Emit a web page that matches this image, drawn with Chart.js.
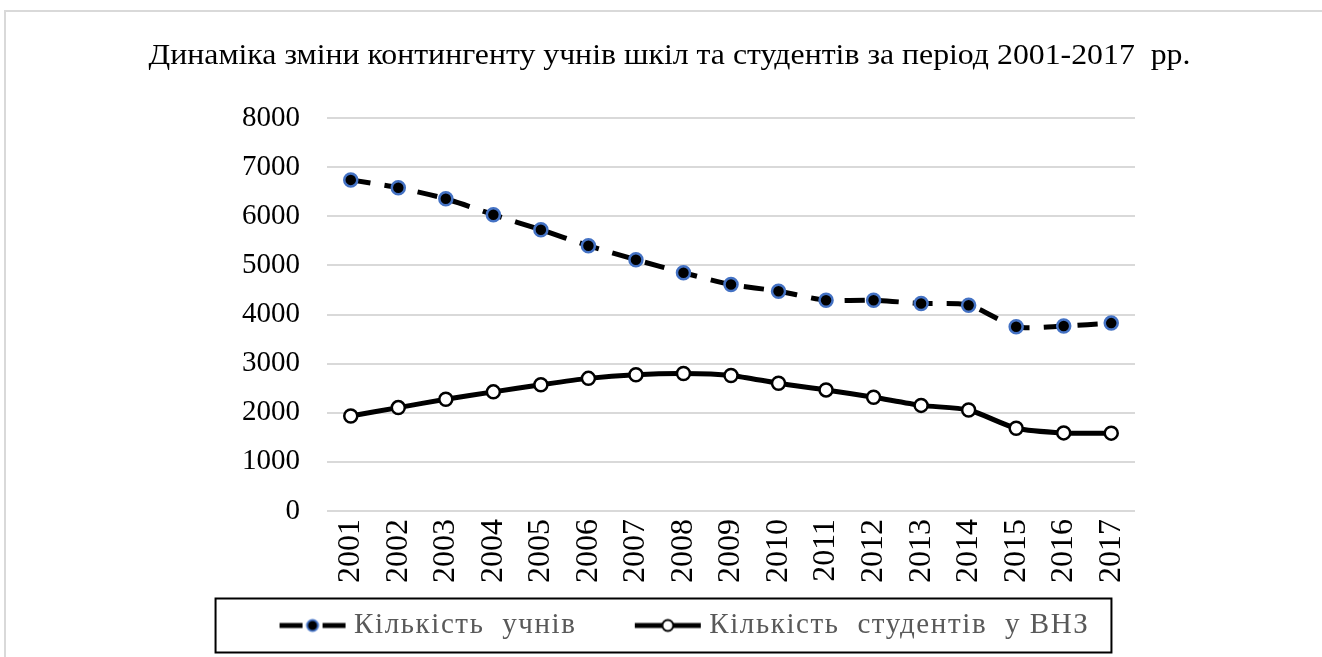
<html>
  <head>
    <script src="https://cdn.jsdelivr.net/npm/chart.js@4.4.1/dist/chart.umd.min.js"></script>
    <style>
      body { margin: 0; background: #fff; overflow: hidden; }
      #frame { position: absolute; left: 4px; top: 10px; width: 1340px; height: 700px; border: 2px solid #d9d9d9; }
      #wrap { position: absolute; left: 0; top: 0; width: 1322px; height: 657px; }
    </style>
    <script>
      // years and counts (thousands)
      var years = ['2001', '2002', '2003', '2004', '2005', '2006', '2007', '2008', '2009',
        '2010', '2011', '2012', '2013', '2014', '2015', '2016', '2017']
      var pupils = [6740, 6580, 6355, 6030, 5725, 5400, 5115, 4850, 4610,
        4475, 4290, 4290, 4225, 4190, 3750, 3765, 3825]
      var students = [1935, 2105, 2275, 2425, 2570, 2700, 2775, 2800, 2760,
        2600, 2465, 2315, 2150, 2055, 1685, 1590, 1585]
      var yTicks = [0, 1000, 2000, 3000, 4000, 5000, 6000, 7000, 8000]
      var titleText = 'Динаміка зміни контингенту учнів шкіл та студентів за період 2001-2017  рр.'
      var seriesNames = ['Кількість  учнів', 'Кількість  студентів  у ВНЗ']

      var serif = "'Liberation Serif', 'Times New Roman', serif"

      function legendMarker(dashed, fill, stroke) {
        var c = document.createElement('canvas')
        c.width = 68
        c.height = 20
        var ctx = c.getContext('2d')
        ctx.strokeStyle = '#000'
        ctx.lineWidth = 5
        ctx.beginPath()
        if (dashed) {
          ctx.moveTo(1, 10); ctx.lineTo(24, 10)
          ctx.moveTo(44, 10); ctx.lineTo(67, 10)
        } else {
          ctx.moveTo(1, 10); ctx.lineTo(67, 10)
        }
        ctx.stroke()
        ctx.beginPath()
        ctx.arc(34, 10, 5.5, 0, Math.PI * 2)
        ctx.fillStyle = fill
        ctx.fill()
        ctx.lineWidth = 2
        ctx.strokeStyle = stroke
        ctx.stroke()
        return c
      }

      // the original text runs a bit wider than Liberation Serif, so space the legend letters out
      function withSpacing(obj, name, ls) {
        var orig = obj[name]
        obj[name] = function () {
          var ctx = this.ctx
          var old = ctx.letterSpacing
          ctx.letterSpacing = ls
          try { return orig.apply(this, arguments) } finally { ctx.letterSpacing = old }
        }
      }

      // and stretch the title sideways around its centre
      function stretchTitle(title, sx) {
        var orig = title.draw
        title.draw = function () {
          var ctx = this.ctx
          var cx = (this.left + this.right) / 2
          ctx.save()
          ctx.translate(cx, 0)
          ctx.scale(sx, 1)
          ctx.translate(-cx, 0)
          // text is squeezed to the box width, so give it room while drawing
          this.left -= 150; this.right += 150; this.width += 300
          try {
            return orig.apply(this, arguments)
          } finally {
            this.left += 150; this.right -= 150; this.width -= 300
            ctx.restore()
          }
        }
      }

      var legendBox = {
        id: 'legendBox',
        afterLayout: function (chart) {
          // legend sits a little right of centre in the original
          chart.legend.left += 18
          chart.legend.right += 18
        },
        afterDraw: function (chart) {
          var boxes = chart.legend.legendHitBoxes
          if (!boxes || !boxes.length) return
          var l = Math.min.apply(null, boxes.map(function (b) { return b.left }))
          var r = Math.max.apply(null, boxes.map(function (b) { return b.left + b.width }))
          var t = boxes[0].top, h = boxes[0].height
          var ctx = chart.ctx
          ctx.save()
          ctx.strokeStyle = '#000'
          ctx.lineWidth = 2
          ctx.strokeRect(l - 70, t + h / 2 - 27, (r + 22) - (l - 70), 54)
          ctx.restore()
        }
      }

      function init() {
        var markers = [legendMarker(true, '#000', '#4472C4'), legendMarker(false, '#fff', '#000')]
        var chart = new Chart(document.getElementById('chart'), {
          type: 'line',
          data: {
            labels: years,
            datasets: [
              {
                label: seriesNames[0],
                data: pupils,
                borderColor: '#000',
                borderWidth: 5,
                borderDash: [20, 14],
                pointRadius: 6.5,
                pointBackgroundColor: '#000',
                pointBorderColor: '#4472C4',
                pointBorderWidth: 2.5,
                fill: false,
                tension: 0.25,
              },
              {
                label: seriesNames[1],
                data: students,
                borderColor: '#000',
                borderWidth: 5,
                pointRadius: 6.5,
                pointBackgroundColor: '#fff',
                pointBorderColor: '#000',
                pointBorderWidth: 2.5,
                fill: false,
                tension: 0.25,
              },
            ],
          },
          options: {
            responsive: false,
            animation: false,
            layout: { padding: { left: 204, right: 187, top: 0, bottom: 7 } },
            plugins: {
              title: {
                display: true,
                text: titleText,
                color: '#000',
                font: { family: serif, size: 30, weight: 'normal' },
                padding: { top: 38, bottom: 44 },
              },
              legend: {
                position: 'bottom',
                labels: {
                  usePointStyle: true,
                  pointStyleWidth: 54,
                  color: '#595959',
                  font: { family: serif, size: 29 },
                  padding: 20,
                  generateLabels: function (chart) {
                    var n = chart.data.datasets.length
                    return chart.data.datasets.map(function (ds, i) {
                      return {
                        // trailing spaces only widen the gap between the two entries
                        text: i < n - 1 ? ds.label + '     ' : ds.label,
                        pointStyle: markers[i],
                        fontColor: '#595959',
                        lineWidth: 0,
                        datasetIndex: i,
                      }
                    })
                  },
                },
              },
              tooltip: { enabled: false },
            },
            scales: {
              x: {
                offset: true,
                grid: { display: false, drawTicks: false },
                border: { display: false },
                ticks: {
                  color: '#000',
                  font: { family: serif, size: 32 },
                  minRotation: 90,
                  maxRotation: 90,
                  padding: 8,
                  autoSkip: false,
                },
              },
              y: {
                min: 0,
                max: 8000,
                afterFit: function (scale) { scale.width = 123 },
                afterBuildTicks: function (scale) {
                  scale.ticks = yTicks.map(function (v) { return { value: v } })
                },
                grid: { color: '#d9d9d9', lineWidth: 2, drawTicks: false },
                border: { display: false },
                ticks: {
                  color: '#000',
                  font: { family: serif, size: 29 },
                  padding: 27,
                  callback: function (v) { return String(v) },
                },
              },
            },
          },
          plugins: [legendBox],
        })
        stretchTitle(chart.titleBlock, 1.06)
        withSpacing(chart.legend, 'fit', '1.6px')
        withSpacing(chart.legend, 'draw', '1.6px')
        chart.update()
      }
    </script>
  </head>
  <body onload="init()">
    <div id="frame"></div>
    <div id="wrap">
      <canvas id="chart" width="1322" height="657"></canvas>
    </div>
  </body>
</html>
